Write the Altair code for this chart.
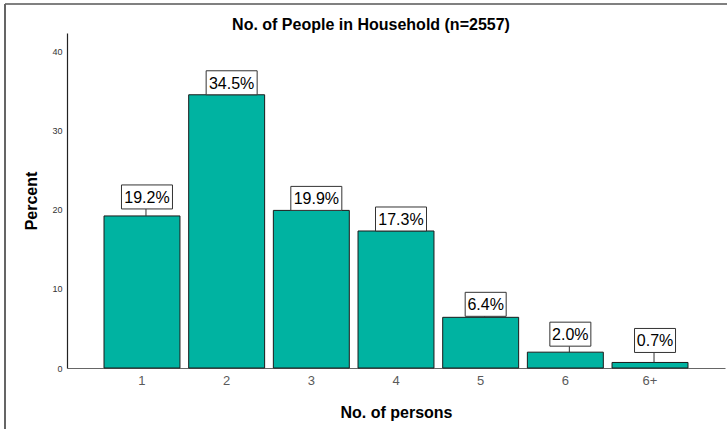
import altair as alt
import pandas as pd

# Household size distribution
categories = ["1", "2", "3", "4", "5", "6", "6+"]
percents = [19.2, 34.5, 19.9, 17.3, 6.4, 2.0, 0.7]

# Callout layout: pixel gap between bar top and label box (leader line length)
callout_gap_px = [7, 0, 0, 0, 1, 6, 10]

PLOT_W, PLOT_H = 658, 335
Y_MAX = 42.3
PX_PER_UNIT = PLOT_H / Y_MAX
BOX_H_PX = 24
FONT = "Liberation Sans"
BAR_FILL = "#00B3A1"

df = pd.DataFrame({
    "persons": categories,
    "percent": percents,
    "gap": callout_gap_px,
})
df["label"] = [f"{v:.1f}%" for v in percents]

x_enc = alt.X(
    "persons:N",
    sort=categories,
    scale=alt.Scale(paddingInner=0.103, paddingOuter=0.437),
    axis=alt.Axis(
        title="No. of persons",
        titleFont=FONT, titleFontSize=16, titleFontWeight="bold", titleColor="#000",
        titleY=49, titleBaseline="alphabetic",
        labelAngle=0, labelFont=FONT, labelFontSize=13, labelColor="#5a5a5a",
        labelPadding=6, ticks=False, domainColor="#666", domainWidth=1.2, grid=False,
    ),
)

y_scale = alt.Scale(domain=[0, Y_MAX], nice=False, zero=True)

base = alt.Chart(df).transform_calculate(
    box_lo=f"datum.percent + datum.gap / {PX_PER_UNIT}",
    box_hi=f"datum.percent + (datum.gap + {BOX_H_PX}) / {PX_PER_UNIT}",
    box_mid=f"datum.percent + (datum.gap + {BOX_H_PX} / 2) / {PX_PER_UNIT}",
)

bars = base.mark_bar(fill=BAR_FILL, stroke="#1a1a1a", strokeWidth=1).encode(
    x=x_enc,
    y=alt.Y(
        "percent:Q",
        scale=y_scale,
        axis=alt.Axis(
            title="Percent", values=[0, 10, 20, 30, 40],
            titleFont=FONT, titleFontSize=16, titleFontWeight="bold", titleColor="#000",
            titleX=-36, titleY=PLOT_H / 2, titleAngle=270,
            titleBaseline="middle", titleAlign="center",
            labelFont=FONT, labelFontSize=9, labelColor="#333", labelPadding=5,
            ticks=False, domainColor="#222", domainWidth=1.2, grid=False,
        ),
    ),
)

leaders = base.transform_filter("datum.gap > 0").mark_rule(
    color="#333", strokeWidth=1, xOffset=4
).encode(
    x=alt.X("persons:N", sort=categories),
    y=alt.Y("percent:Q", scale=y_scale),
    y2="box_lo:Q",
)

boxes = base.mark_rect(
    fill="white", stroke="#333", strokeWidth=1, xOffset=5,
    width=alt.ExprRef(expr="datum.label.length * 10 + 1"),
).encode(
    x=alt.X("persons:N", sort=categories),
    y=alt.Y("box_lo:Q", scale=y_scale),
    y2="box_hi:Q",
)

labels = base.mark_text(
    font=FONT, fontSize=16, color="#000", baseline="middle", align="center", xOffset=5, dy=1,
).encode(
    x=alt.X("persons:N", sort=categories),
    y=alt.Y("box_mid:Q", scale=y_scale),
    text="label:N",
)

# Outer frame (top and left edges)
frame_top = alt.Chart(df).mark_rule(color="#808080", strokeWidth=2).encode(
    x=alt.value(-62), x2=alt.value(PLOT_W + 2), y=alt.value(-29)
)
frame_left = alt.Chart(df).mark_rule(color="#666", strokeWidth=1.5).encode(
    x=alt.value(-62), y=alt.value(-29), y2=alt.value(PLOT_H + 61)
)

chart = alt.layer(bars, leaders, boxes, labels, frame_top, frame_left).properties(
    width=PLOT_W,
    height=PLOT_H,
    background="white",
    title=alt.TitleParams(
        "No. of People in Household (n=2557)",
        font=FONT, fontSize=16, fontWeight="bold", color="#000",
        anchor="middle", dx=-25, offset=-43, baseline="alphabetic",
    ),
    autosize=alt.AutoSizeParams(type="none"),
    padding={"left": 67, "top": 33, "right": 2, "bottom": 61},
).configure_view(strokeWidth=0)

chart.save("out.html", embed_options={"renderer": "svg", "actions": False})
